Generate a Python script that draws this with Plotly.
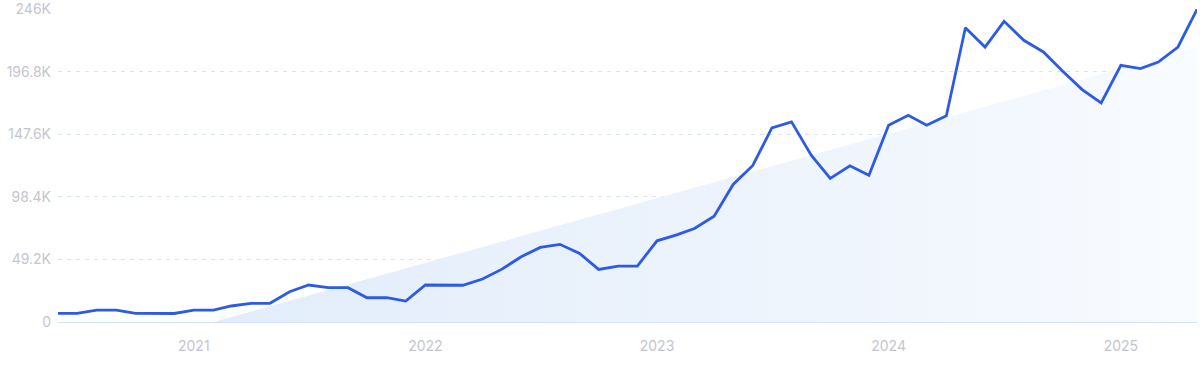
import plotly.graph_objects as go
import pandas as pd

months = pd.date_range("2020-06-01", "2025-05-01", freq="MS")
values_k = [
    6.8, 6.8, 9.4, 9.4, 6.8, 6.8, 6.7, 9.4, 9.4, 12.6,
    14.7, 14.7, 23.8, 29.1, 27.0, 27.0, 19.1, 19.1, 16.5, 29.1,
    29.1, 28.9, 33.8, 41.4, 51.3, 58.7, 61.1, 54.0, 41.4, 44.0,
    44.0, 63.9, 68.6, 73.6, 83.3, 108.2, 123.2, 152.7, 157.5, 131.3,
    113.0, 122.9, 115.5, 154.8, 162.7, 154.8, 162.2, 231.6, 216.4, 236.6,
    221.7, 212.5, 197.5, 182.9, 172.4, 202.0, 199.4, 204.6, 216.4, 246.0,
]
values = [v * 1000 for v in values_k]

trend_dates = ["2021-02-01", "2025-05-01"]
trend_values = [0, 216000]

ytick_vals = [0, 49200, 98400, 147600, 196800, 246000]
ytick_text = ["0", "49.2K", "98.4K", "147.6K", "196.8K", "246K"]
xtick_vals = ["2021-01-01", "2022-01-01", "2023-01-01", "2024-01-01", "2025-01-01"]
xtick_text = ["2021", "2022", "2023", "2024", "2025"]

fig = go.Figure()
fig.add_trace(go.Scatter(
    x=trend_dates, y=trend_values, mode="lines", line=dict(width=0),
    fill="tozeroy",
    fillgradient=dict(type="horizontal",
                      colorscale=[[0, "rgba(226,237,251,1)"], [0.5, "rgba(236,243,252,1)"], [1, "rgba(248,251,255,1)"]]),
    hoverinfo="skip", showlegend=False,
))
fig.add_trace(go.Scatter(
    x=months, y=values, mode="lines",
    line=dict(color="#2d5be3", width=2.8),
    showlegend=False, cliponaxis=False,
))

fig.update_layout(
    width=1200, height=371,
    margin=dict(l=58, r=3, t=9, b=49),
    paper_bgcolor="white", plot_bgcolor="white",
    font=dict(family="Inter, Roboto, sans-serif", size=14, color="#c4c5d0"),
    showlegend=False,
)
fig.update_xaxes(
    range=[months[0], months[-1]],
    tickvals=xtick_vals, ticktext=xtick_text,
    showgrid=False, zeroline=False, showline=False, ticks="",
    ticklabelstandoff=14, automargin=False,
)
fig.update_yaxes(
    range=[0, 246300],
    tickvals=ytick_vals, ticktext=ytick_text,
    showgrid=True, gridcolor="#d8e5f7", griddash="4px,5px", gridwidth=1,
    zeroline=True, zerolinecolor="#cfe4f8", zerolinewidth=1,
    showline=False, ticks="", ticklabelstandoff=6, automargin=False,
)

fig.write_html("out.html", config={"displayModeBar": False},
               post_script="document.body.style.margin='0';document.body.style.overflow='hidden';")
